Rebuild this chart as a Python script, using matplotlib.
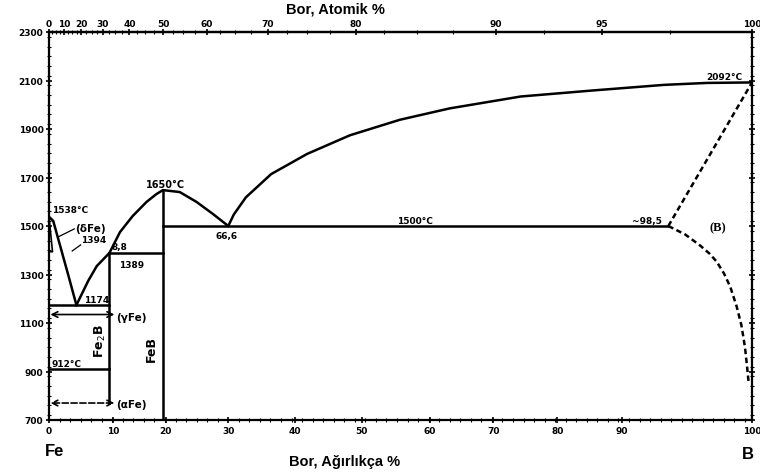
import numpy as np
import matplotlib
matplotlib.use('Agg')
import matplotlib.pyplot as plt
from matplotlib.ticker import MultipleLocator, FixedLocator

# Fe-B faz diyagramı (ağırlıkça % B, °C)
fe_liq_w = [0.0, 0.6, 2.7, 3.9]
fe_liq_t = [1538, 1521, 1302, 1174]

# Fe2B / FeB likidüsü (ötektik -> 1389 -> 1650 tepe -> 1500 ötektik)
mid_liq_w = [3.9, 5.6, 6.8, 8.6, 10.1, 11.9, 13.9, 15.3, 16.2, 18.6, 21.0, 23.3, 25.5]
mid_liq_t = [1174, 1275, 1335, 1389, 1475, 1541, 1600, 1632, 1648, 1640, 1599, 1550, 1500]

# B tarafı likidüsü
b_liq_w = [25.5, 26.3, 28.0, 31.6, 36.7, 42.8, 49.9, 57.0, 67.1, 77.4, 87.5, 93.6, 100.0]
b_liq_t = [1500, 1548, 1618, 1714, 1797, 1874, 1938, 1985, 2034, 2059, 2082, 2090, 2092]

# kesikli çizgiler (B tarafı)
b_dash_w = [88.1, 100.0]
b_dash_t = [1500, 2092]
b_solv_w = [88.1, 90.5, 92.6, 94.0, 95.0, 96.0, 96.9, 97.8, 98.5, 99.0, 99.3, 99.5]
b_solv_t = [1500, 1465, 1420, 1385, 1352, 1305, 1250, 1170, 1090, 1000, 920, 860]

# delta demir bölgesi
delta_w = [0.0, 0.5, 0.0]
delta_t = [1538, 1394, 1394]

FE2B_W, FEB_W = 8.6, 16.2
T_EUT1, T_PER, T_EUT2 = 1174, 1389, 1500
T_A3, T_CURIE, T_GAMMA = 912, 770, 1135

# alt eksen etiketleri şekildeki yerlerinde
bot_tick_pos = [0, 9.1, 16.6, 25.5, 35.0, 44.5, 54.2, 63.2, 72.3, 81.5, 100]
bot_tick_lab = ['0', '10', '20', '30', '40', '50', '60', '70', '80', '90', '100']

top_ticks = [0, 10, 20, 30, 40, 50, 60, 70, 80, 90, 95, 100]
top_labels = ['0', '10', '20', '30', '40', '50', '60', '70', '80', '90', '95', '100']

y_ticks = [700, 900, 1100, 1300, 1500, 1700, 1900, 2100, 2300]

M_B, M_FE = 10.81, 55.85


def wt2at(w):
    w = np.clip(np.asarray(w, dtype=float), 0, 100)
    nb = w / M_B
    nf = (100 - w) / M_FE
    return 100 * nb / (nb + nf)


def at2wt(a):
    a = np.clip(np.asarray(a, dtype=float), 0, 100)
    mb = a * M_B
    mf = (100 - a) * M_FE
    return 100 * mb / (mb + mf)


plt.rcParams['font.family'] = ['DejaVu Sans']
fig = plt.figure(figsize=(7.6, 4.77), dpi=100)
ax = fig.add_axes([49 / 760, 1 - 421 / 477, 703 / 760, 388 / 477])

lw = 1.8
k = 'black'
ax.plot(fe_liq_w, fe_liq_t, color=k, lw=lw)
ax.plot(mid_liq_w, mid_liq_t, color=k, lw=lw)
ax.plot(b_liq_w, b_liq_t, color=k, lw=lw)
ax.plot(delta_w, delta_t, color=k, lw=1.2)
ax.plot(b_dash_w, b_dash_t, color=k, lw=lw, ls=(0, (2.2, 1.4)))
ax.plot(b_solv_w, b_solv_t, color=k, lw=lw, ls=(0, (2.2, 1.4)))

# yatay reaksiyon çizgileri
ax.plot([0, FE2B_W], [T_EUT1, T_EUT1], color=k, lw=lw)
ax.plot([FE2B_W, FEB_W], [T_PER, T_PER], color=k, lw=lw)
ax.plot([FEB_W, b_dash_w[0]], [T_EUT2, T_EUT2], color=k, lw=lw)
ax.plot([0, FE2B_W], [T_A3, T_A3], color=k, lw=lw)

# bileşik çizgileri
ax.plot([FE2B_W, FE2B_W], [T_PER, T_CURIE], color=k, lw=lw)
ax.plot([FEB_W, FEB_W], [mid_liq_t[8], 700], color=k, lw=lw)

# oklar
ax.annotate('', xy=(0.2, T_GAMMA), xytext=(9.3, T_GAMMA),
            arrowprops=dict(arrowstyle='<->', lw=1.2, color=k, shrinkA=0, shrinkB=0))
ax.annotate('', xy=(0.2, T_CURIE), xytext=(9.3, T_CURIE),
            arrowprops=dict(arrowstyle='<->', lw=1.2, color=k, ls='--', shrinkA=0, shrinkB=0))
ax.plot([1.3, 3.6], [1455, 1488], color=k, lw=0.9)
ax.plot([3.3, 4.5], [1397, 1422], color=k, lw=0.9)

tk = dict(fontsize=6.5, fontweight='bold', color=k)
ax.text(0.5, 1548, '1538°C', ha='left', va='bottom', **tk)
ax.text(3.7, 1490, '(δFe)', ha='left', va='center', fontsize=7.5, fontweight='bold')
ax.text(4.5, 1425, '1394', ha='left', va='bottom', **tk)
ax.text(8.9, 1395, '8,8', ha='left', va='bottom', **tk)
ax.text(10.0, 1343, '1389', ha='left', va='center', **tk)
ax.text(5.0, 1178, '1174', ha='left', va='bottom', **tk)
ax.text(9.5, T_GAMMA - 10, '(γFe)', ha='left', va='center', fontsize=7.5, fontweight='bold')
ax.text(0.4, T_A3 + 4, '912°C', ha='left', va='bottom', **tk)
ax.text(9.5, T_CURIE - 6, '(αFe)', ha='left', va='center', fontsize=7.5, fontweight='bold')
ax.text(7.3, 1030, 'Fe$_2$B', rotation=90, ha='center', va='center', fontsize=9, fontweight='bold')
ax.text(14.5, 995, 'FeB', rotation=90, ha='center', va='center', fontsize=9, fontweight='bold')
ax.text(16.6, 1652, '1650°C', ha='center', va='bottom', fontsize=7, fontweight='bold')
ax.text(25.2, 1478, '66,6', ha='center', va='top', **tk)
ax.text(52.1, 1503, '1500°C', ha='center', va='bottom', **tk)
ax.text(85.0, 1503, '~98,5', ha='center', va='bottom', **tk)
ax.text(95.2, 1496, '(B)', ha='center', va='center', fontsize=9, fontweight='bold',
        family='Liberation Serif')
ax.text(96.0, 2097, '2092°C', ha='center', va='bottom', **tk)

ax.set_xlim(0, 100)
ax.set_ylim(700, 2300)

ax.set_xticks(bot_tick_pos, bot_tick_lab)
ax.xaxis.set_minor_locator(MultipleLocator(1.5))
ax.set_yticks(y_ticks)
ax.yaxis.set_minor_locator(MultipleLocator(40))
ax.tick_params(axis='both', which='major', length=4, width=1.2, labelsize=6.5, pad=2)
ax.tick_params(axis='both', which='minor', length=2.5, width=0.8)
ax.tick_params(axis='y', which='both', right=True, direction='inout')
ax.tick_params(axis='x', which='both', direction='inout')
for lab in ax.get_xticklabels() + ax.get_yticklabels():
    lab.set_fontweight('bold')

top = ax.secondary_xaxis('top', functions=(wt2at, at2wt))
top.set_xticks(top_ticks, top_labels)
top.xaxis.set_minor_locator(FixedLocator(np.arange(0, 100, 2.5)))
top.tick_params(which='major', length=4, width=1.2, labelsize=6.5, pad=1, direction='inout')
top.tick_params(which='minor', length=2.5, width=0.8, direction='inout')
for lab in top.get_xticklabels():
    lab.set_fontweight('bold')

for sp in list(ax.spines.values()) + list(top.spines.values()):
    sp.set_linewidth(1.6)

fig.text(335 / 760, 1 - 9 / 477, 'Bor, Atomik %', ha='center', va='center',
         fontsize=10.5, fontweight='bold', family='Liberation Sans')
fig.text(345 / 760, 1 - 462 / 477, 'Bor, Ağırlıkça %', ha='center', va='center',
         fontsize=10.5, fontweight='bold', family='Liberation Sans')
fig.text(55 / 760, 1 - 452 / 477, 'Fe', ha='center', va='center',
         fontsize=12, fontweight='bold', family='Liberation Sans')
fig.text(748 / 760, 1 - 455 / 477, 'B', ha='center', va='center',
         fontsize=12, fontweight='bold', family='Liberation Sans')

fig.savefig('out.png', dpi=100)
